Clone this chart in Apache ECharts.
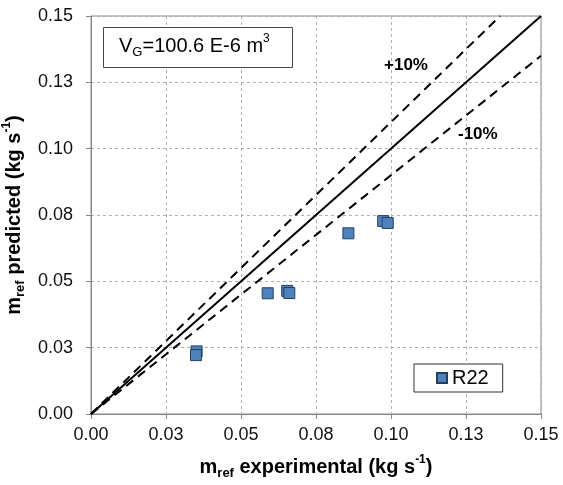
<!DOCTYPE html>
<html><head><meta charset="utf-8">
<script src="https://cdn.jsdelivr.net/npm/echarts@6/dist/echarts.min.js"></script>
<style>html,body{margin:0;padding:0;background:#fff}#c{width:563px;height:485px}</style>
</head><body><div id="c"></div>
<script>
// ---- data ----
const tickLabels = ['0.00', '0.03', '0.05', '0.08', '0.10', '0.13', '0.15'];
const r22Experimental = [0.0352, 0.0350, 0.0589, 0.0654, 0.0661, 0.0858, 0.0974, 0.0989];
const r22Predicted    = [0.0236, 0.0222, 0.0455, 0.0464, 0.0456, 0.0681, 0.0727, 0.0720];
const parityLine  = [[0, 0], [0.15, 0.15]];
const plus10Line  = [[0, 0], [0.13636, 0.15]];
const minus10Line = [[0, 0], [0.15, 0.135]];
const seriesName = 'R22';

const FONT = '"Liberation Sans", Arial, Helvetica, sans-serif';
const chart = echarts.init(document.getElementById('c'), null, {renderer: 'canvas'});
const fmt = v => tickLabels[Math.round(v / 0.025)] || '';

const axisCommon = {
  type: 'value', min: 0, max: 0.15, interval: 0.025,
  axisLine: {show: true, lineStyle: {color: '#888', width: 1}},
  axisTick: {show: true, length: 5, lineStyle: {color: '#888'}},
  splitLine: {show: true, lineStyle: {color: '#b0b0b0', width: 1, type: [3, 3]}},
  nameLocation: 'middle',
};

const titleRich = {
  b:  {fontFamily: FONT, fontSize: 20, fontWeight: 'bold', color: '#000', lineHeight: 26},
  bs: {fontFamily: FONT, fontSize: 13, fontWeight: 'bold', color: '#000', lineHeight: 13, verticalAlign: 'bottom'},
  bp: {fontFamily: FONT, fontSize: 12, fontWeight: 'bold', color: '#000', lineHeight: 13, verticalAlign: 'top'}
};

chart.setOption({
  animation: false,
  backgroundColor: '#fff',
  grid: {left: 91, top: 16, right: 22, bottom: 71, show: true, borderColor: '#888', borderWidth: 1,
         backgroundColor: '#fff', containLabel: false, outerBoundsMode: 'none'},
  xAxis: Object.assign({}, axisCommon, {
    axisLabel: {formatter: fmt, fontFamily: FONT, fontSize: 18, color: '#111', margin: 12},
    name: '{b|m}{bs|ref}{b| experimental (kg s}{bp|-1}{b|)}',
    nameGap: 40,
    nameTextStyle: {rich: titleRich}
  }),
  yAxis: Object.assign({}, axisCommon, {
    axisLabel: {formatter: fmt, fontFamily: FONT, fontSize: 18, color: '#111', margin: 18},
    name: '{b|m}{bs|ref}{b| predicted (kg s}{bp|-1}{b|)}',
    nameGap: 56,
    nameTextStyle: {rich: titleRich}
  }),
  legend: {
    data: [seriesName],
    left: 414, top: 364,
    orient: 'horizontal',
    backgroundColor: '#fff',
    borderColor: '#333', borderWidth: 1, borderRadius: 0,
    padding: [4, 14, 4, 22],
    itemWidth: 10, itemHeight: 10, itemGap: 4,
    textStyle: {fontFamily: FONT, fontSize: 20, color: '#000'}
  },
  graphic: [
    {type: 'rect', left: 103, top: 27, shape: {width: 189, height: 40},
     style: {fill: '#fff', stroke: '#444', lineWidth: 1}, z: 10},
    {type: 'text', left: 119, top: 33, z: 11,
     style: {
       text: '{a|V}{s|G}{a|=100.6 E-6 m}{p|3}',
       rich: {
         a: {fontFamily: FONT, fontSize: 20, color: '#000', lineHeight: 26},
         s: {fontFamily: FONT, fontSize: 13, color: '#000', lineHeight: 13, verticalAlign: 'bottom'},
         p: {fontFamily: FONT, fontSize: 12, color: '#000', lineHeight: 13, verticalAlign: 'top'}
       }
     }},
    {type: 'text', left: 384, top: 57, z: 11,
     style: {text: '+10%', fontFamily: FONT, fontSize: 17, fontWeight: 'bold', fill: '#000'}},
    {type: 'text', left: 458, top: 126, z: 11,
     style: {text: '-10%', fontFamily: FONT, fontSize: 17, fontWeight: 'bold', fill: '#000'}}
  ],
  series: [
    {type: 'line', name: 'parity', data: parityLine, symbol: 'none', silent: true,
     lineStyle: {color: '#000', width: 2, type: 'solid'}, z: 3},
    {type: 'line', name: '+10', data: plus10Line, symbol: 'none', silent: true,
     lineStyle: {color: '#000', width: 2, type: [9, 6]}, z: 3},
    {type: 'line', name: '-10', data: minus10Line, symbol: 'none', silent: true,
     lineStyle: {color: '#000', width: 2, type: [9, 6]}, z: 3},
    {type: 'scatter', name: seriesName,
     data: r22Experimental.map((x, i) => [x, r22Predicted[i]]),
     symbol: 'rect', symbolSize: 11,
     itemStyle: {color: '#4F81BD', borderColor: '#24405f', borderWidth: 1, opacity: 1}, z: 5}
  ]
});
</script></body></html>
